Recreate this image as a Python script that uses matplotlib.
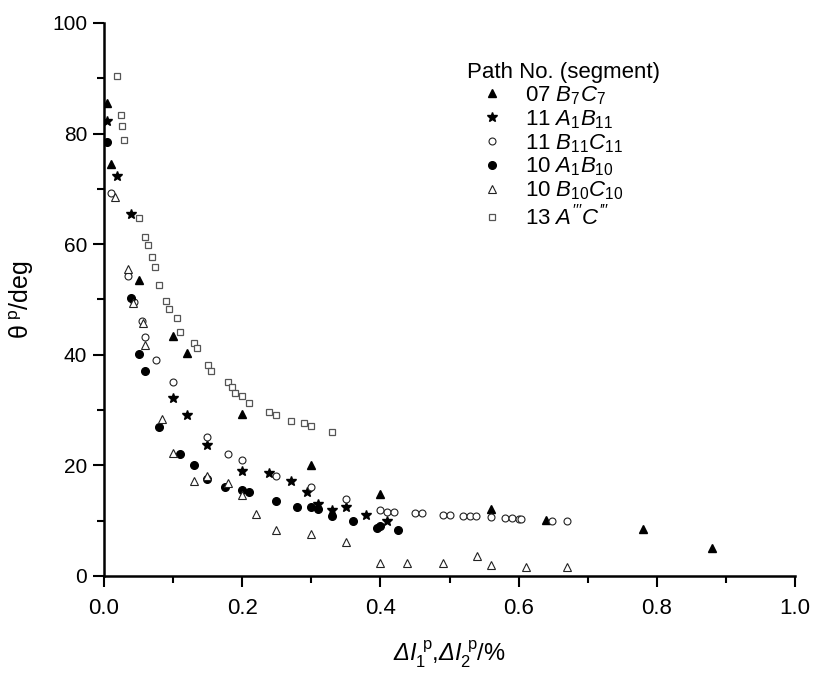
import matplotlib
matplotlib.use("Agg")
import matplotlib.pyplot as plt
from matplotlib.ticker import MultipleLocator

plt.rcParams["font.family"] = ["Liberation Sans", "DejaVu Sans"]
plt.rcParams["mathtext.fontset"] = "custom"
plt.rcParams["mathtext.rm"] = "Liberation Sans"
plt.rcParams["mathtext.it"] = "Liberation Sans:italic"
plt.rcParams["mathtext.bf"] = "Liberation Sans:bold"
# sf slot used for an italic capital Delta (mathit forces Greek capitals upright)
plt.rcParams["mathtext.sf"] = "Liberation Sans:italic"

# path 07, segment B7C7
b7c7_x = [0.004, 0.01, 0.05, 0.10, 0.12, 0.20, 0.30, 0.40, 0.56, 0.64, 0.78, 0.88]
b7c7_y = [85.6, 74.5, 53.5, 43.4, 40.4, 29.3, 20.1, 14.8, 12.1, 10.1, 8.5, 5.1]

# path 11, segment A1B11
a1b11_x = [0.004, 0.019, 0.039, 0.10, 0.12, 0.149, 0.20, 0.239, 0.27, 0.294,
           0.31, 0.33, 0.35, 0.379, 0.41]
a1b11_y = [82.3, 72.3, 65.4, 32.1, 29.1, 23.6, 19.0, 18.6, 17.1, 15.1,
           13.0, 11.9, 12.5, 11.0, 10.0]

# path 11, segment B11C11
b11c11_x = [0.01, 0.035, 0.043, 0.055, 0.06, 0.075, 0.10, 0.149, 0.179, 0.20,
            0.249, 0.30, 0.35, 0.40, 0.409, 0.419, 0.45, 0.46, 0.491, 0.50,
            0.52, 0.53, 0.539, 0.56, 0.58, 0.59, 0.60, 0.604, 0.649, 0.67]
b11c11_y = [69.3, 54.2, 49.6, 46.1, 43.3, 39.1, 35.1, 25.1, 22.1, 21.0,
            18.1, 16.0, 13.9, 11.9, 11.6, 11.6, 11.4, 11.4, 11.0, 11.0,
            10.85, 10.85, 10.85, 10.7, 10.5, 10.4, 10.25, 10.25, 10.0, 9.95]

# path 10, segment A1B10
a1b10_x = [0.005, 0.039, 0.05, 0.06, 0.08, 0.11, 0.13, 0.149, 0.175, 0.20,
           0.21, 0.249, 0.28, 0.30, 0.31, 0.33, 0.36, 0.395, 0.40, 0.425]
a1b10_y = [78.4, 50.3, 40.1, 37.1, 27.0, 22.1, 20.1, 17.6, 16.0, 15.6,
           15.1, 13.5, 12.4, 12.5, 12.1, 10.9, 9.9, 8.6, 9.0, 8.4]

# path 10, segment B10C10
b10c10_x = [0.016, 0.035, 0.042, 0.056, 0.06, 0.084, 0.10, 0.13, 0.149, 0.179,
            0.20, 0.22, 0.249, 0.30, 0.35, 0.40, 0.439, 0.49, 0.54, 0.56,
            0.61, 0.67]
b10c10_y = [68.5, 55.5, 49.3, 45.7, 41.8, 28.3, 22.2, 17.2, 18.0, 16.8,
            14.6, 11.2, 8.3, 7.6, 6.2, 2.3, 2.3, 2.3, 3.6, 1.9,
            1.7, 1.6]

# path 13, segment A'''C'''
a3c3_x = [0.019, 0.024, 0.0265, 0.029, 0.051, 0.06, 0.064, 0.069, 0.074, 0.08,
          0.09, 0.0945, 0.105, 0.11, 0.13, 0.135, 0.15, 0.155, 0.18, 0.185,
          0.19, 0.20, 0.21, 0.239, 0.249, 0.27, 0.289, 0.30, 0.33]
a3c3_y = [90.5, 83.4, 81.4, 78.8, 64.8, 61.3, 59.8, 57.7, 55.9, 52.7,
          49.8, 48.2, 46.7, 44.2, 42.2, 41.2, 38.2, 37.1, 35.1, 34.2,
          33.1, 32.5, 31.3, 29.7, 29.1, 28.0, 27.6, 27.1, 26.1]

series = [
    (b7c7_x, b7c7_y, "07 $B_7C_7$", dict(marker="^", ms=6, mfc="black", mec="black")),
    (a1b11_x, a1b11_y, "11 $A_1B_{11}$", dict(marker="*", ms=7.5, mfc="black", mec="black")),
    (b11c11_x, b11c11_y, "11 $B_{11}C_{11}$", dict(marker="o", ms=5, mfc="white", mec="#222222", mew=0.8)),
    (a1b10_x, a1b10_y, "10 $A_1B_{10}$", dict(marker="o", ms=5.5, mfc="black", mec="black")),
    (b10c10_x, b10c10_y, "10 $B_{10}C_{10}$", dict(marker="^", ms=5.5, mfc="white", mec="#222222", mew=0.8)),
    (a3c3_x, a3c3_y, "13 $A'''C'''$", dict(marker="s", ms=4.5, mfc="white", mec="#555555", mew=0.9)),
]

fig = plt.figure(figsize=(8.15, 6.76), dpi=100)
ax = fig.add_axes([0.1276, 0.148, 0.8479, 0.818])

for xs, ys, label, style in series:
    ax.plot(xs, ys, linestyle="none", label=label, **style)

ax.set_xlim(0, 1.0)
ax.set_ylim(0, 100)
ax.xaxis.set_major_locator(MultipleLocator(0.2))
ax.xaxis.set_minor_locator(MultipleLocator(0.1))
ax.yaxis.set_major_locator(MultipleLocator(20))
ax.yaxis.set_minor_locator(MultipleLocator(10))
ax.xaxis.set_major_formatter(plt.FuncFormatter(lambda v, p: f"{v:.1f}"))

for side in ("top", "right"):
    ax.spines[side].set_visible(False)
for side in ("left", "bottom"):
    ax.spines[side].set_linewidth(1.8)
ax.tick_params(which="major", direction="out", length=8, width=1.5, labelsize=15)
ax.tick_params(which="minor", direction="out", length=5, width=1.5)
ax.tick_params(axis="x", pad=8, labelsize=16)
ax.tick_params(axis="y", pad=4)

ax.set_xlabel(r"$\mathsf{Δ}\mathit{I}_1^{\ \mathrm{p}}$,$\mathsf{Δ}\mathit{I}_2^{\ \mathrm{p}}$/%",
              fontsize=17, labelpad=14)
ax.set_ylabel(r"θ$^{\ \mathrm{p}}$/deg", fontsize=18, labelpad=12)

leg = ax.legend(loc="upper left", bbox_to_anchor=(0.503, 0.958), frameon=False,
                fontsize=16, title="Path No. (segment)", title_fontsize=16,
                handletextpad=0.4, labelspacing=0.06, alignment="left",
                handlelength=2.2, borderpad=0.2)

fig.savefig("out.png", dpi=100)
